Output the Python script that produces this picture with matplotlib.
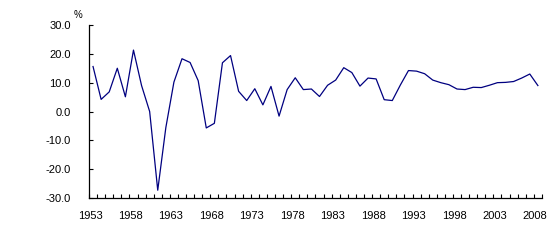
import numpy as np
import matplotlib
matplotlib.use("Agg")
import matplotlib.pyplot as plt
import matplotlib.transforms as mtransforms
from matplotlib.ticker import FixedLocator, FuncFormatter

years = list(range(1953, 2009))
growth = [15.6, 4.2, 6.8, 15.0, 5.1, 21.3, 9.0, 0.0, -27.3, -5.6,
          10.2, 18.3, 17.0, 10.7, -5.7, -4.1, 16.9, 19.4, 7.0, 3.8,
          7.9, 2.3, 8.7, -1.6, 7.6, 11.7, 7.6, 7.8, 5.2, 9.1,
          10.9, 15.2, 13.5, 8.8, 11.6, 11.3, 4.1, 3.8, 9.2, 14.2,
          14.0, 13.1, 10.9, 10.0, 9.3, 7.8, 7.6, 8.4, 8.3, 9.1,
          10.0, 10.1, 10.4, 11.6, 13.0, 9.0]
label_years = list(range(1953, 2009, 5))
y_ticks = [-30, -20, -10, 0, 10, 20, 30]

plt.rcParams['axes.unicode_minus'] = False
plt.rcParams['font.family'] = 'Liberation Sans'

fig = plt.figure(figsize=(5.49, 2.42), dpi=100)
ax = fig.add_axes([0.1621, 0.1818, 0.825, 0.7149])

ax.plot(years, growth, color='#000080', linewidth=0.9)

ax.set_xlim(years[0] - 0.5, years[-1] + 0.5)
ax.set_ylim(-30, 30)

ax.spines['top'].set_visible(False)
ax.spines['right'].set_visible(False)
for s in ('left', 'bottom'):
    ax.spines[s].set_linewidth(0.9)
    ax.spines[s].set_color('black')

ax.set_xticks(label_years)
ax.set_xticklabels([str(y) for y in label_years], fontsize=8)
ax.xaxis.set_minor_locator(FixedLocator(np.arange(years[0] - 0.5, years[-1] + 1, 1.0)))
ax.tick_params(axis='x', which='major', length=0, pad=9)
ax.tick_params(axis='x', which='minor', direction='in', length=3, width=0.8)

# labels sit a little left of the points in the original
shift = mtransforms.ScaledTranslation(-3 / 100, 0, fig.dpi_scale_trans)
for lbl in ax.get_xticklabels():
    lbl.set_transform(lbl.get_transform() + shift)

ax.set_yticks(y_ticks)
ax.yaxis.set_major_formatter(FuncFormatter(lambda v, p: '%.1f' % v))
ax.tick_params(axis='y', direction='in', length=3, width=0.8, labelsize=8, pad=13)

fig.text(78 / 549, 1 - 15 / 242, '%', fontsize=7, ha='center', va='center')

fig.savefig('out.png', dpi=100)
